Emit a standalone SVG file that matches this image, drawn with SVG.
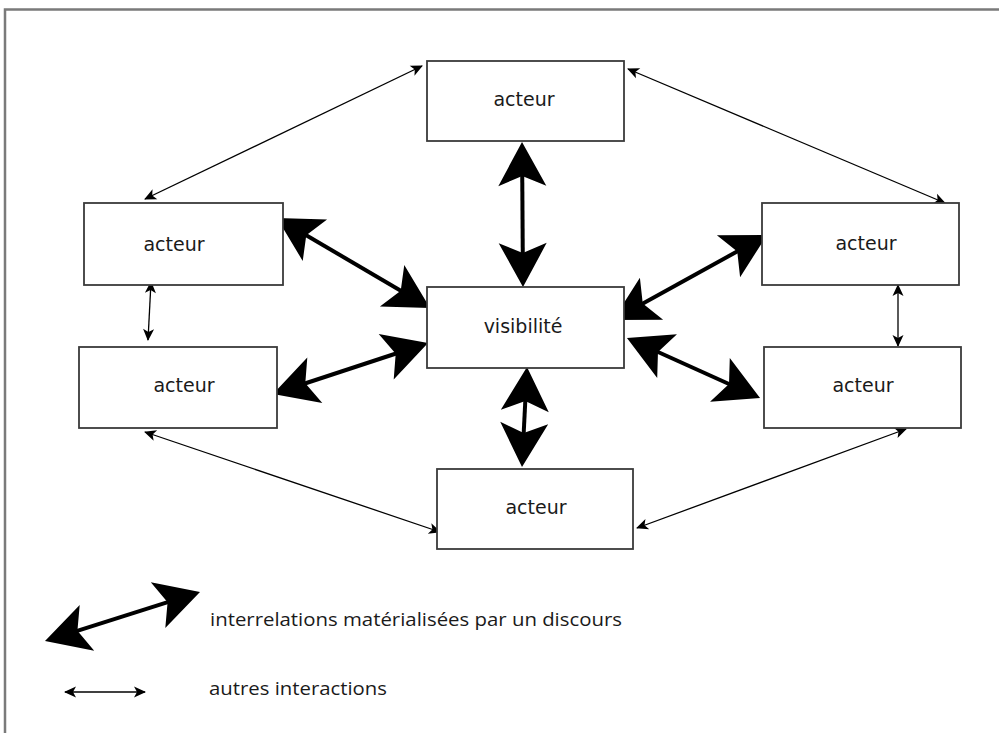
<svg xmlns="http://www.w3.org/2000/svg" width="999" height="733" viewBox="0 0 999 733">
<style>
.box{fill:#fff;stroke:#3a3a3a;stroke-width:1.8}
.lbl{font-family:"DejaVu Sans",sans-serif;font-size:19px;fill:#1a1a1a;text-anchor:middle}
.leg{font-family:"Open Sans","Noto Sans",sans-serif;font-size:19px;fill:#1a1a1a}
.thick{stroke:#000;stroke-width:4;fill:none;marker-start:url(#big);marker-end:url(#big)}
.thin{stroke:#000;stroke-width:1.3;fill:none;marker-start:url(#small);marker-end:url(#small)}
</style>
<defs>
<marker id="big" markerUnits="userSpaceOnUse" orient="auto-start-reverse" refX="16" refY="0" markerWidth="50" markerHeight="50" overflow="visible">
<path d="M0,-24 L44,0 L0,24 L10,0 Z" fill="#000"/>
</marker>
<marker id="small" markerUnits="userSpaceOnUse" orient="auto-start-reverse" refX="11" refY="0" markerWidth="14" markerHeight="12" overflow="visible">
<path d="M0,-5.5 L12,0 L0,5.5 L3,0 Z" fill="#000"/>
</marker>
</defs>
<rect width="999" height="733" fill="#fff"/>
<path d="M5,733 V9.5 H999" fill="none" stroke="#7a7a7a" stroke-width="2.5"/>

<g id="connectors">
<line class="thick" x1="522.2" y1="170" x2="522.8" y2="259"/>
<line class="thick" x1="525.6" y1="395" x2="523.4" y2="439"/>
<line class="thick" x1="301.1" y1="232.2" x2="405.9" y2="293.8"/>
<line class="thick" x1="299.6" y1="385.25" x2="401.4" y2="351.75"/>
<line class="thick" x1="742.5" y1="248.5" x2="637.5" y2="306.5"/>
<line class="thick" x1="652.5" y1="349.5" x2="734.5" y2="386.5"/>
<line class="thin" x1="422" y1="66" x2="145" y2="199"/>
<line class="thin" x1="628" y1="69" x2="945" y2="203"/>
<line class="thin" x1="151" y1="282" x2="148" y2="340"/>
<line class="thin" x1="898" y1="285" x2="898" y2="346"/>
<line class="thin" x1="145" y1="432" x2="440" y2="532"/>
<line class="thin" x1="637" y1="528" x2="906" y2="429"/>
</g>

<g id="n-top"><rect class="box" x="427" y="61" width="197" height="80"/><text class="lbl" x="524" y="106">acteur</text></g>
<g id="n-left1"><rect class="box" x="84" y="203" width="199" height="82"/><text class="lbl" x="174" y="251">acteur</text></g>
<g id="n-left2"><rect class="box" x="79" y="347" width="198" height="81"/><text class="lbl" x="184" y="392">acteur</text></g>
<g id="n-center"><rect class="box" x="427" y="287" width="197" height="81"/><text class="lbl" x="523" y="333">visibilité</text></g>
<g id="n-right1"><rect class="box" x="762" y="203" width="197" height="82"/><text class="lbl" x="866" y="250">acteur</text></g>
<g id="n-right2"><rect class="box" x="764" y="347" width="197" height="81"/><text class="lbl" x="863" y="392">acteur</text></g>
<g id="n-bottom"><rect class="box" x="437" y="469" width="196" height="80"/><text class="lbl" x="536" y="514">acteur</text></g>

<g id="legend">
<line class="thick" x1="71.7" y1="632.6" x2="173.3" y2="600.4"/>
<text class="leg" x="210" y="626" textLength="412" lengthAdjust="spacingAndGlyphs">interrelations matérialisées par un discours</text>
<line class="thin" x1="65" y1="692" x2="145" y2="692"/>
<text class="leg" x="209" y="695" textLength="178" lengthAdjust="spacingAndGlyphs">autres interactions</text>
</g>
</svg>
